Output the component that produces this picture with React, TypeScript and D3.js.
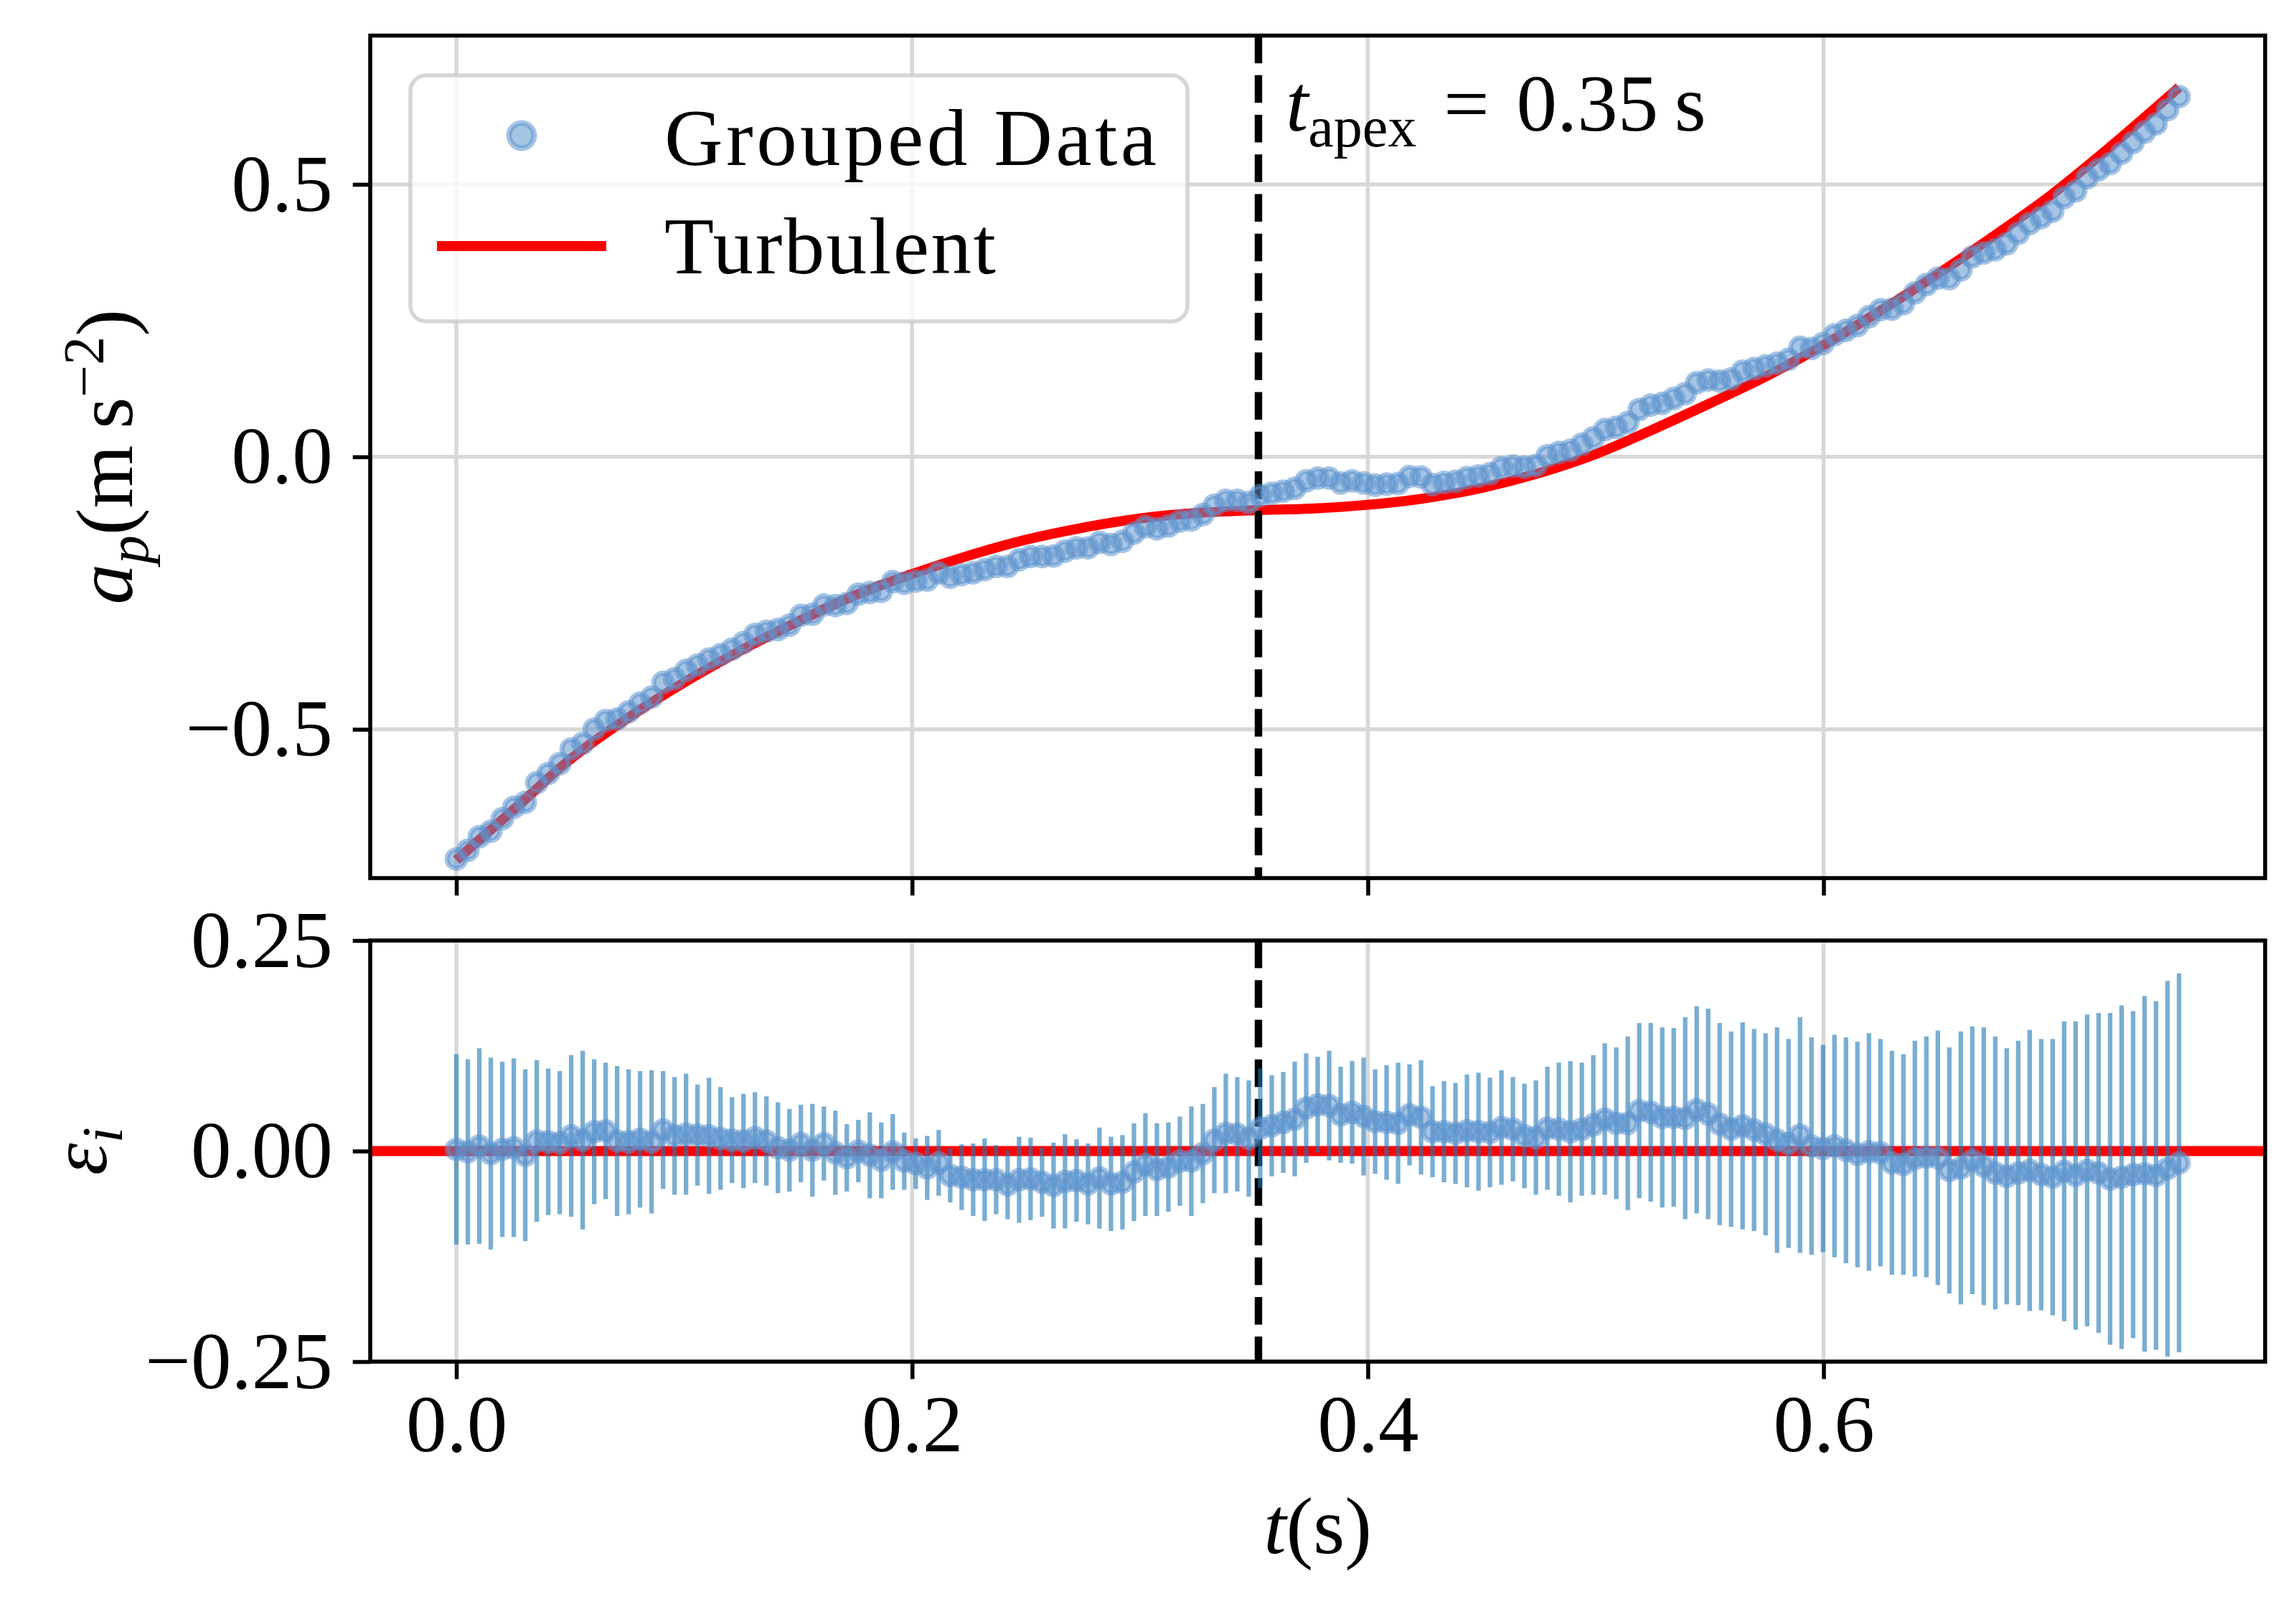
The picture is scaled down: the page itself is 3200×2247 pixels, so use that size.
import React, { useEffect, useRef } from "react";
import * as d3 from "d3";

// sampling of the grouped data (s)
const T_STEP = 0.00504;
const T_APEX = 0.352;

// particle acceleration, grouped data (m s^-2)
const accel = [
  -0.738, -0.722, -0.697, -0.687, -0.664, -0.643, -0.634, -0.598, -0.581, -0.563,
  -0.536, -0.526, -0.5, -0.484, -0.481, -0.468, -0.452, -0.441, -0.414, -0.407,
  -0.392, -0.382, -0.371, -0.363, -0.353, -0.341, -0.326, -0.32, -0.317, -0.309,
  -0.291, -0.289, -0.272, -0.273, -0.269, -0.252, -0.249, -0.247, -0.229, -0.232,
  -0.228, -0.226, -0.213, -0.221, -0.216, -0.213, -0.207, -0.201, -0.201, -0.189,
  -0.183, -0.183, -0.182, -0.173, -0.167, -0.167, -0.157, -0.161, -0.155, -0.14,
  -0.128, -0.132, -0.127, -0.118, -0.116, -0.106, -0.089, -0.08, -0.08, -0.084,
  -0.071, -0.067, -0.063, -0.058, -0.044, -0.039, -0.039, -0.048, -0.044, -0.048,
  -0.052, -0.05, -0.049, -0.036, -0.037, -0.051, -0.047, -0.045, -0.038, -0.035,
  -0.031, -0.02, -0.017, -0.019, -0.016, 0.002, 0.008, 0.012, 0.023, 0.035,
  0.05, 0.054, 0.063, 0.087, 0.095, 0.098, 0.107, 0.116, 0.136, 0.141,
  0.139, 0.143, 0.157, 0.162, 0.167, 0.172, 0.179, 0.201, 0.199, 0.208,
  0.224, 0.232, 0.241, 0.257, 0.27, 0.271, 0.281, 0.301, 0.316, 0.328,
  0.327, 0.343, 0.367, 0.374, 0.38, 0.391, 0.41, 0.428, 0.439, 0.451,
  0.476, 0.488, 0.512, 0.527, 0.538, 0.557, 0.577, 0.596, 0.611, 0.637,
  0.661,
];

// residuals against the turbulent fit
const residual = [
  0.002, -0.001, 0.006, -0.003, 0.002, 0.004, -0.005, 0.012, 0.011, 0.01,
  0.018, 0.013, 0.023, 0.024, 0.012, 0.011, 0.014, 0.011, 0.025, 0.018,
  0.02, 0.019, 0.018, 0.015, 0.013, 0.012, 0.016, 0.012, 0.004, 0.001,
  0.009, 0.001, 0.009, -0.002, -0.008, 0.0, -0.005, -0.011, -0.001, -0.012,
  -0.015, -0.02, -0.014, -0.029, -0.031, -0.034, -0.034, -0.034, -0.04, -0.034,
  -0.033, -0.037, -0.041, -0.036, -0.035, -0.039, -0.032, -0.039, -0.037, -0.025,
  -0.016, -0.022, -0.019, -0.012, -0.012, -0.003, 0.013, 0.021, 0.02, 0.015,
  0.027, 0.03, 0.034, 0.038, 0.051, 0.055, 0.054, 0.043, 0.046, 0.041,
  0.035, 0.034, 0.033, 0.043, 0.04, 0.023, 0.023, 0.021, 0.024, 0.023,
  0.022, 0.028, 0.026, 0.018, 0.016, 0.027, 0.026, 0.023, 0.026, 0.031,
  0.038, 0.033, 0.033, 0.048, 0.046, 0.04, 0.04, 0.039, 0.049, 0.044,
  0.032, 0.026, 0.03, 0.025, 0.02, 0.013, 0.009, 0.019, 0.006, 0.003,
  0.006, 0.001, -0.004, -0.001, -0.002, -0.014, -0.016, -0.009, -0.007, -0.008,
  -0.023, -0.02, -0.011, -0.018, -0.026, -0.03, -0.026, -0.023, -0.028, -0.031,
  -0.024, -0.029, -0.023, -0.026, -0.033, -0.031, -0.028, -0.027, -0.029, -0.021,
  -0.014,
];

const residualErr = [
  0.113, 0.11, 0.116, 0.114, 0.104, 0.106, 0.102, 0.096, 0.087, 0.085,
  0.096, 0.106, 0.086, 0.081, 0.089, 0.086, 0.081, 0.085, 0.07, 0.07,
  0.072, 0.06, 0.069, 0.061, 0.051, 0.056, 0.054, 0.053, 0.054, 0.049,
  0.046, 0.055, 0.044, 0.05, 0.04, 0.037, 0.051, 0.045, 0.045, 0.034,
  0.03, 0.038, 0.039, 0.032, 0.039, 0.043, 0.049, 0.041, 0.041, 0.051,
  0.049, 0.041, 0.051, 0.056, 0.049, 0.048, 0.06, 0.056, 0.056, 0.058,
  0.061, 0.055, 0.053, 0.053, 0.065, 0.059, 0.063, 0.071, 0.068, 0.069,
  0.071, 0.06, 0.06, 0.068, 0.065, 0.057, 0.065, 0.057, 0.061, 0.07,
  0.062, 0.068, 0.072, 0.06, 0.068, 0.054, 0.06, 0.06, 0.067, 0.07,
  0.065, 0.068, 0.062, 0.062, 0.068, 0.073, 0.079, 0.084, 0.079, 0.083,
  0.09, 0.09, 0.103, 0.104, 0.106, 0.107, 0.106, 0.12, 0.123, 0.125,
  0.12, 0.116, 0.123, 0.12, 0.12, 0.134, 0.124, 0.14, 0.129, 0.123,
  0.132, 0.134, 0.134, 0.141, 0.135, 0.133, 0.131, 0.14, 0.143, 0.151,
  0.146, 0.162, 0.159, 0.165, 0.162, 0.152, 0.157, 0.167, 0.161, 0.164,
  0.178, 0.183, 0.185, 0.19, 0.197, 0.204, 0.194, 0.211, 0.207, 0.223,
  0.225,
];

// turbulent model curve
const fitT = [
  0, 0.025, 0.05, 0.075, 0.1, 0.125, 0.15, 0.175, 0.2, 0.225, 0.25, 0.275, 0.3,
  0.325, 0.35, 0.375, 0.4, 0.425, 0.45, 0.475, 0.5, 0.525, 0.55, 0.575, 0.6,
  0.625, 0.65, 0.675, 0.7, 0.725, 0.756,
];
const fitA = [
  -0.74, -0.648, -0.555, -0.48, -0.414, -0.355, -0.302, -0.254, -0.215, -0.181,
  -0.152, -0.13, -0.113, -0.103, -0.098, -0.095, -0.088, -0.076, -0.057, -0.03,
  0.005, 0.05, 0.098, 0.148, 0.205, 0.268, 0.335, 0.406, 0.481, 0.566, 0.678,
];

const xTicks = [0, 0.2, 0.4, 0.6];
const topTicks = [-0.5, 0, 0.5];
const bottomTicks = [-0.25, 0, 0.25];
const legendLabels = ["Grouped Data", "Turbulent"];

const W = 3200,
  H = 2247;
const FONT = "'Liberation Serif', 'Times New Roman', serif";
const FS = 113;
const PT = 500 / 72;
const DOT = "#5d94ce";
const BAR = "#1f77b4";

function App() {
  const ref = useRef(null);

  useEffect(() => {
    document.body.style.margin = "0";
    const svg = d3.select(ref.current);
    svg.selectAll("*").remove();

    const left = 516,
      right = 3157;
    const top1 = 49.6,
      bot1 = 1224;
    const top2 = 1311,
      bot2 = 1898;

    const times = d3.range(accel.length).map((i) => i * T_STEP);

    const x = d3.scaleLinear().domain([-0.0378, 0.7938]).range([left, right]);
    const y1 = d3.scaleLinear().domain([-0.773, 0.773]).range([bot1, top1]);
    const y2 = d3.scaleLinear().domain([-0.25, 0.25]).range([bot2, top2]);

    svg
      .append("rect")
      .attr("width", W)
      .attr("height", H)
      .attr("fill", "white");

    const defs = svg.append("defs");
    [
      ["clip1", top1, bot1],
      ["clip2", top2, bot2],
    ].forEach(([id, t, b]) => {
      defs
        .append("clipPath")
        .attr("id", id)
        .append("rect")
        .attr("x", left)
        .attr("y", t)
        .attr("width", right - left)
        .attr("height", b - t);
    });

    const panel = (y, yTicks, t, b, clipId, fmt) => {
      const g = svg.append("g");
      // grid
      g.selectAll(".vgrid")
        .data(xTicks)
        .enter()
        .append("line")
        .attr("x1", (d) => x(d))
        .attr("x2", (d) => x(d))
        .attr("y1", t)
        .attr("y2", b)
        .attr("stroke", "#d8d8d8")
        .attr("stroke-width", 0.8 * PT);
      g.selectAll(".hgrid")
        .data(yTicks)
        .enter()
        .append("line")
        .attr("x1", left)
        .attr("x2", right)
        .attr("y1", (d) => y(d))
        .attr("y2", (d) => y(d))
        .attr("stroke", "#d8d8d8")
        .attr("stroke-width", 0.8 * PT);

      const plot = g.append("g").attr("clip-path", `url(#${clipId})`);

      // y axis
      const ya = g
        .append("g")
        .attr("transform", `translate(${left},0)`)
        .call(
          d3
            .axisLeft(y)
            .tickValues(yTicks)
            .tickFormat(d3.format(fmt))
            .tickSize(3.5 * PT)
            .tickPadding(28)
        );
      ya.select(".domain").remove();
      ya.selectAll("line").attr("stroke-width", 0.8 * PT);
      ya.selectAll("text")
        .attr("font-family", FONT)
        .attr("font-size", FS)
        .attr("fill", "#000");

      return { g, plot };
    };

    const p1 = panel(y1, topTicks, top1, bot1, "clip1", ".1f");
    const p2 = panel(y2, bottomTicks, top2, bot2, "clip2", ".2f");

    // x axes (labels only on the lower panel)
    const xa1 = svg
      .append("g")
      .attr("transform", `translate(0,${bot1})`)
      .call(
        d3
          .axisBottom(x)
          .tickValues(xTicks)
          .tickFormat(() => "")
          .tickSize(3.5 * PT)
      );
    xa1.select(".domain").remove();
    xa1.selectAll("line").attr("stroke-width", 0.8 * PT);

    const xa2 = svg
      .append("g")
      .attr("transform", `translate(0,${bot2})`)
      .call(
        d3
          .axisBottom(x)
          .tickValues(xTicks)
          .tickFormat(d3.format(".1f"))
          .tickSize(3.5 * PT)
          .tickPadding(20)
      );
    xa2.select(".domain").remove();
    xa2.selectAll("line").attr("stroke-width", 0.8 * PT);
    xa2.selectAll("text")
      .attr("font-family", FONT)
      .attr("font-size", FS)
      .attr("fill", "#000");

    // fit curve
    const fitLine = d3
      .line()
      .x((d) => x(d[0]))
      .y((d) => y1(d[1]))
      .curve(d3.curveMonotoneX);
    p1.plot
      .append("path")
      .datum(fitT.map((t, i) => [t, fitA[i]]))
      .attr("d", fitLine)
      .attr("fill", "none")
      .attr("stroke", "#ff0000")
      .attr("stroke-width", 2 * PT);

    p2.plot
      .append("line")
      .attr("x1", left)
      .attr("x2", right)
      .attr("y1", y2(0))
      .attr("y2", y2(0))
      .attr("stroke", "#ff0000")
      .attr("stroke-width", 2 * PT);

    // apex marker
    [
      [p1.plot, top1, bot1],
      [p2.plot, top2, bot2],
    ].forEach(([pl, t, b]) => {
      pl.append("line")
        .attr("x1", x(T_APEX))
        .attr("x2", x(T_APEX))
        .attr("y1", t)
        .attr("y2", b)
        .attr("stroke", "#000")
        .attr("stroke-width", 1.5 * PT)
        .attr("stroke-dasharray", `${3.7 * 1.5 * PT} ${1.6 * 1.5 * PT}`);
    });

    // error bars
    p2.plot
      .selectAll(".err")
      .data(residual)
      .enter()
      .append("line")
      .attr("x1", (d, i) => x(times[i]))
      .attr("x2", (d, i) => x(times[i]))
      .attr("y1", (d, i) => y2(d - residualErr[i]))
      .attr("y2", (d, i) => y2(d + residualErr[i]))
      .attr("stroke", BAR)
      .attr("stroke-opacity", 0.6)
      .attr("stroke-width", 6.3);

    const dots = (sel, vals, y) =>
      sel
        .selectAll(".dot")
        .data(vals)
        .enter()
        .append("circle")
        .attr("cx", (d, i) => x(times[i]))
        .attr("cy", (d) => y(d))
        .attr("r", 13)
        .attr("fill", DOT)
        .attr("fill-opacity", 0.55)
        .attr("stroke", DOT)
        .attr("stroke-opacity", 0.55)
        .attr("stroke-width", 7);

    dots(p1.plot, accel, y1);
    dots(p2.plot, residual, y2);

    // spines
    [
      [top1, bot1],
      [top2, bot2],
    ].forEach(([t, b]) => {
      svg
        .append("rect")
        .attr("x", left)
        .attr("y", t)
        .attr("width", right - left)
        .attr("height", b - t)
        .attr("fill", "none")
        .attr("stroke", "#000")
        .attr("stroke-width", 0.8 * PT);
    });

    // annotation
    const ann = svg
      .append("text")
      .attr("x", x(T_APEX) + 38)
      .attr("y", 182)
      .attr("font-family", FONT)
      .attr("font-size", FS);
    ann.append("tspan").attr("font-style", "italic").text("t");
    ann.append("tspan").attr("font-size", 80).attr("dy", 22).text("apex");
    ann.append("tspan").attr("dy", -22).text("\u2004=\u20040.35\u2009s");

    // legend
    const lg = svg.append("g");
    lg.append("rect")
      .attr("x", 572)
      .attr("y", 105)
      .attr("width", 1083)
      .attr("height", 343)
      .attr("rx", 22)
      .attr("fill", "white")
      .attr("fill-opacity", 0.8)
      .attr("stroke", "#cccccc")
      .attr("stroke-opacity", 0.8)
      .attr("stroke-width", 5.6);
    lg.append("circle")
      .attr("cx", 727)
      .attr("cy", 189)
      .attr("r", 17.5)
      .attr("fill", DOT)
      .attr("fill-opacity", 0.55)
      .attr("stroke", DOT)
      .attr("stroke-opacity", 0.55)
      .attr("stroke-width", 8);
    lg.append("line")
      .attr("x1", 609)
      .attr("x2", 845)
      .attr("y1", 343)
      .attr("y2", 343)
      .attr("stroke", "#ff0000")
      .attr("stroke-width", 2 * PT);
    lg.selectAll(".lbl")
      .data(legendLabels)
      .enter()
      .append("text")
      .attr("x", 926)
      .attr("y", (d, i) => [230, 381][i])
      .attr("font-family", FONT)
      .attr("font-size", FS)
      .attr("textLength", (d, i) => [686, 462][i])
      .attr("lengthAdjust", "spacing")
      .text((d) => d);

    // axis labels
    const yl1 = svg
      .append("text")
      .attr("transform", `translate(184,${(top1 + bot1) / 2}) rotate(-90)`)
      .attr("text-anchor", "middle")
      .attr("font-family", FONT)
      .attr("font-size", FS);
    yl1.append("tspan").attr("font-style", "italic").text("a");
    yl1.append("tspan")
      .attr("font-style", "italic")
      .attr("font-size", 80)
      .attr("dy", 22)
      .text("p");
    yl1.append("tspan").attr("dy", -22).text("(m\u2009s");
    yl1.append("tspan").attr("font-size", 80).attr("dy", -40).text("\u22122");
    yl1.append("tspan").attr("dy", 40).text(")");

    const yl2 = svg
      .append("text")
      .attr("transform", `translate(148,${(top2 + bot2) / 2}) rotate(-90)`)
      .attr("text-anchor", "middle")
      .attr("font-family", FONT)
      .attr("font-size", FS);
    yl2.append("tspan").attr("font-style", "italic").text("\u03b5");
    yl2.append("tspan")
      .attr("font-style", "italic")
      .attr("font-size", 80)
      .attr("dy", 22)
      .text("i");

    const xl = svg
      .append("text")
      .attr("x", (left + right) / 2)
      .attr("y", 2165)
      .attr("text-anchor", "middle")
      .attr("font-family", FONT)
      .attr("font-size", FS);
    xl.append("tspan").attr("font-style", "italic").text("t");
    xl.append("tspan").text("(s)");
  }, []);

  return (
    <div>
      <svg ref={ref} width={W} height={H} style={{ display: "block" }}></svg>
    </div>
  );
}

export default App;
